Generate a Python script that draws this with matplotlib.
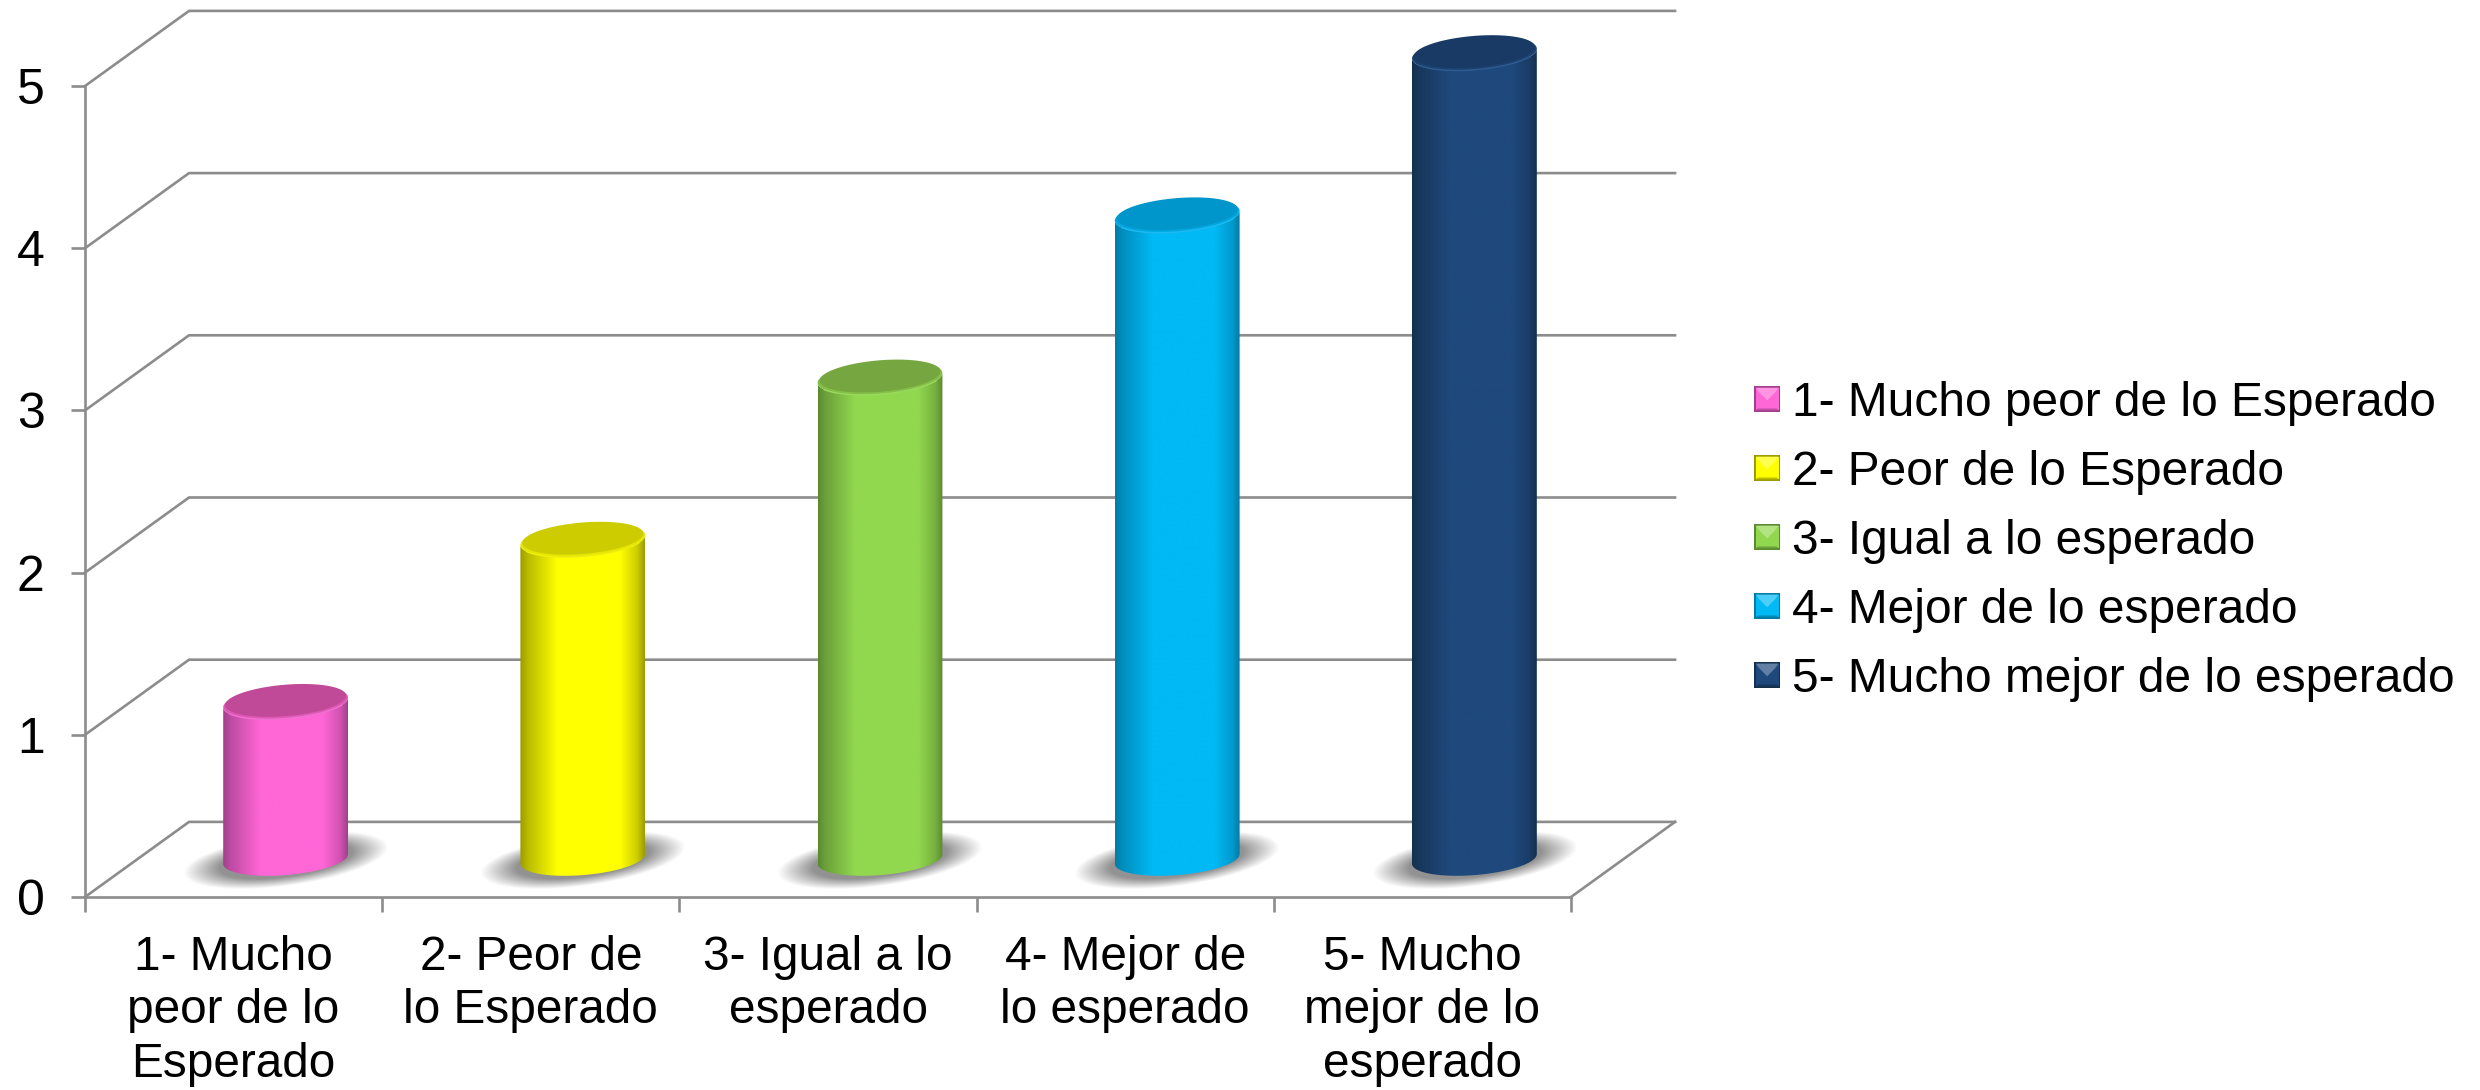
#!/usr/bin/env python
# -*- encoding: utf8 -*-

import matplotlib
matplotlib.use("Agg")
import matplotlib.pyplot as plt
from matplotlib.legend_handler import HandlerBase
from matplotlib.patches import PathPatch, Polygon
from matplotlib.path import Path
from matplotlib.colors import to_rgb

import numpy as np

plt.rcParams['font.family'] = ['Liberation Sans', 'DejaVu Sans']

# data
axis_labels = ["1- Mucho\npeor de lo\nEsperado", "2- Peor de\nlo Esperado", "3- Igual a lo\nesperado",
               "4- Mejor de\nlo esperado", "5- Mucho\nmejor de lo\nesperado"]
legend_labels = ["1- Mucho peor de lo Esperado", "2- Peor de lo Esperado", "3- Igual a lo esperado",
                 "4- Mejor de lo esperado", "5- Mucho mejor de lo esperado"]
values = [1, 2, 3, 4, 5]
y_ticks = [0, 1, 2, 3, 4, 5]

# colours: side centre, side edge, top face, top rim
side_colors = ["#FF66D6", "#FFFF00", "#92D84F", "#00B9F5", "#1F497D"]
edge_colors = ["#A23F8C", "#9C9C00", "#5B8A30", "#007CA6", "#14304F"]
top_colors = ["#C04A97", "#CCCC00", "#76A63F", "#0096CC", "#183A64"]
rim_colors = ["#F070D0", "#EEEE10", "#9AD860", "#20B8F0", "#2F5A90"]

GRID = "#8C8C8C"
DX = 0.35    # depth of the box, in categories
DY = 0.463   # depth of the box, in value units
BAR_A = 0.21
BAR_B = 0.1
BAR_S = 0.03
BASE = 0.235
TOP_OFF = 0.2


def ellipse(cx, cy, t, k=1.0):
    return cx + k * BAR_A * np.cos(t), cy + k * BAR_B * np.sin(t) + k * BAR_S * np.cos(t)


def draw_shadow(ax, cx, cy):
    x = np.linspace(cx - 0.42, cx + 0.42, 200)
    y = np.linspace(cy - 0.25, cy + 0.25, 120)
    xx, yy = np.meshgrid(x, y)
    # slanted blurred disc under the cylinder
    u = (xx - cx) / 0.345
    v = (yy - cy - 0.23 * (xx - cx)) / 0.16
    r = np.sqrt(u ** 2 + v ** 2)
    img = np.ones(xx.shape + (4,)) * 0.5
    img[..., 3] = np.clip((1.0 - r) / 0.35, 0, 1) * 0.85
    ax.imshow(img, extent=(x[0], x[-1], y[0], y[-1]), origin='lower', aspect='auto', zorder=2,
              interpolation='bilinear').set_clip_box(ax.figure.bbox)


def draw_cylinder(ax, i, value):
    cx = i + 0.5 + DX / 2
    top = value + TOP_OFF

    c = np.array(to_rgb(side_colors[i]))
    e = np.array(to_rgb(edge_colors[i]))
    stops = [0.0, 0.06, 0.3, 0.8, 0.94, 1.0]
    mix = [1.0, 0.7, 0.0, 0.0, 0.5, 1.0]
    pos = np.linspace(0, 1, 256)
    m = np.interp(pos, stops, mix)[None, :, None]
    grad = c * (1 - m) + e * m

    # side: front half of the base, back up the front half of the top
    t = np.linspace(np.pi, 2 * np.pi, 60)
    bx, by = ellipse(cx, BASE, t)
    tx, ty = ellipse(cx, top, t[::-1])
    verts = np.vstack([np.column_stack([bx, by]), np.column_stack([tx, ty]), [[bx[0], by[0]]]])
    im = ax.imshow(grad, extent=(cx - BAR_A, cx + BAR_A, BASE - 0.2, top + 0.2), origin='lower',
                   aspect='auto', zorder=3, interpolation='bilinear')
    im.set_clip_box(ax.figure.bbox)
    im.set_clip_path(PathPatch(Path(verts), transform=ax.transData))

    # top face, soft lighter band along the front edge
    t = np.linspace(0, 2 * np.pi, 120)
    ex, ey = ellipse(cx, top, t)
    mid = (np.array(to_rgb(top_colors[i])) + np.array(to_rgb(side_colors[i]))) / 2
    ax.fill(ex, ey, color=mid, lw=0, zorder=4, clip_on=False)
    ex, ey = ellipse(cx, top + 0.012, t, 0.97)
    ax.fill(ex, ey, color=top_colors[i], lw=0, zorder=4.5, clip_on=False)
    t = np.linspace(np.pi * 1.15, np.pi * 1.85, 60)
    ex, ey = ellipse(cx, top, t)
    ax.plot(ex, ey, color=rim_colors[i], lw=1.0, zorder=5, clip_on=False)


class BevelHandler(HandlerBase):
    """Small bevelled square used as legend key"""

    def create_artists(self, legend, orig_handle, xdescent, ydescent, width, height, fontsize, trans):
        i = orig_handle
        x0, y0 = -xdescent, -ydescent + (height - width) / 2
        w = width
        c = np.array(to_rgb(side_colors[i]))
        light = c + (1 - c) * 0.3
        dark = c * 0.75
        g = 0.07

        def poly(pts, color):
            return Polygon([(x0 + px * w, y0 + py * w) for px, py in pts], closed=True, fc=color,
                           ec='none', transform=trans)

        return [poly([(0, 0), (1, 0), (1, 1), (0, 1)], edge_colors[i]),
                poly([(g, g), (1 - g, g), (1 - g, 1 - g), (g, 1 - g)], side_colors[i]),
                poly([(g, 1 - g), (1 - g, 1 - g), (0.8, 0.75), (0.5, 0.45), (0.2, 0.75)], light),
                poly([(g, g), (1 - g, g), (1 - 2 * g, 2 * g), (2 * g, 2 * g)], dark)]


def main():
    fig = plt.figure(figsize=(24.8, 10.9), dpi=100, facecolor='white')
    ax = fig.add_axes([85 / 2480, (1090 - 897) / 1090, 1486 / 2480, 811 / 1090])

    # back wall and floor lines
    for v in y_ticks:
        ax.plot([0, DX, 5 + DX], [v, v + DY, v + DY], color=GRID, lw=1.9, zorder=1, clip_on=False,
                solid_joinstyle='miter')
    ax.plot([5, 5 + DX], [0, DY], color=GRID, lw=1.9, zorder=1, clip_on=False)

    for i, value in enumerate(values):
        draw_shadow(ax, i + 0.5 + DX / 2, BASE - 0.012)
    for i, value in enumerate(values):
        draw_cylinder(ax, i, value)

    ax.set_xlim(0, 5)
    ax.set_ylim(0, 5)

    for side in ('top', 'right'):
        ax.spines[side].set_visible(False)
    for side in ('left', 'bottom'):
        ax.spines[side].set_color(GRID)
        ax.spines[side].set_linewidth(1.9)

    ax.set_yticks(y_ticks)
    ax.tick_params(axis='y', length=10, width=1.9, color=GRID, labelsize=36, pad=19)
    ax.set_xticks(np.arange(6))
    ax.set_xticklabels([])
    ax.tick_params(axis='x', which='major', length=10.5, width=1.9, color=GRID)
    ax.set_xticks(np.arange(5) + 0.5, minor=True)
    ax.set_xticklabels(axis_labels, minor=True, fontsize=34.4, linespacing=1.25)
    ax.tick_params(axis='x', which='minor', length=0, pad=27)

    ax.legend(list(range(5)), legend_labels, handler_map={int: BevelHandler()},
              loc='upper left', bbox_to_anchor=(1754 / 2480, 1 - 381 / 1090), bbox_transform=fig.transFigure,
              frameon=False, fontsize=34.5, borderpad=0, borderaxespad=0, handlelength=0.55, handleheight=0.55,
              handletextpad=0.24, labelspacing=0.50)

    fig.savefig("out.png", dpi=100)


if __name__ == '__main__':
    main()
